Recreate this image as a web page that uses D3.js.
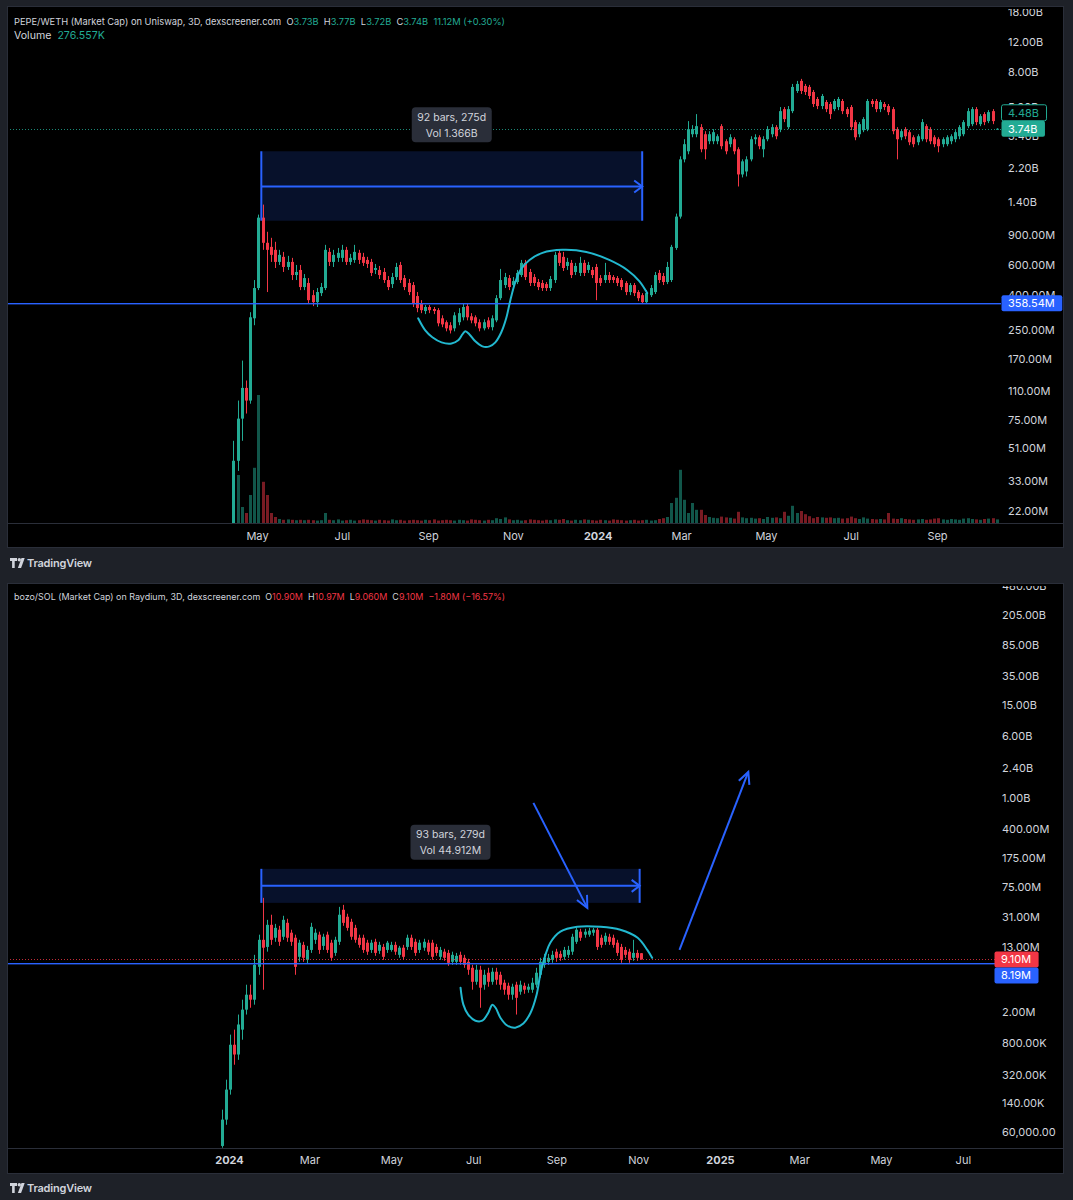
<!DOCTYPE html>
<html><head><meta charset="utf-8">
<script src="https://cdn.jsdelivr.net/npm/d3@7"></script>
<style>
html,body{margin:0;padding:0;background:#1e2128;}
svg{display:block;font-family:Inter,"Liberation Sans",Arial,sans-serif;}
</style></head><body>
<svg id="c" width="1073" height="1200"></svg>
<script>
// ---------------- DATA ----------------
// PEPE/WETH market cap, 3D candles, values in millions: [open, high, low, close]
const pepeStart = "2023-04-14";
const pepeOHLC = [
[18.5,56.5,15,43.2],[43.2,97,37.7,76.1],[76.1,166,56.5,115],[115,127,81.5,97],[97,318,93,297],
[293,490,267,440],[440,1180,428,1133],[1133,1350,735,808],[808,937,417,735],[765,864,625,687],
[735,819,576,625],[625,735,600,687],[669,715,546,584],[584,678,561,625],[625,660,490,524],
[524,600,490,546],[561,600,428,446],[446,531,428,503],[471,503,359,374],[400,428,345,364],
[364,440,341,417],[411,471,395,446],[440,786,428,735],[715,754,592,625],[625,735,584,687],
[660,754,625,706],[660,786,625,735],[735,765,600,625],[625,696,600,660],[642,786,617,715],
[706,735,608,642],[669,706,592,617],[642,669,576,608],[625,651,517,539],[561,608,531,576],
[561,592,497,524],[546,576,471,490],[490,517,428,446],[464,539,440,510],[510,617,490,584],
[600,625,471,490],[503,524,428,446],[471,497,400,417],[458,477,341,359],[395,417,318,336],
[359,374,314,327],[323,350,310,341],[341,350,314,327],[332,341,310,323],[327,336,263,274],
[293,305,260,270],[278,285,246,256],[267,278,239,249],[256,318,246,305],[278,336,267,314],
[297,355,285,341],[345,359,285,297],[301,314,274,285],[297,305,263,274],[278,289,246,256],
[256,289,249,278],[285,297,253,260],[260,305,249,293],[285,400,278,384],[384,569,374,490],
[458,539,440,510],[503,524,428,446],[458,510,440,483],[477,561,464,539],[524,642,510,617],
[617,642,490,510],[546,569,452,471],[510,531,452,471],[477,497,428,446],[471,490,423,440],
[464,477,423,440],[440,517,423,497],[490,715,471,687],[706,735,592,617],[669,715,553,576],
[592,660,561,625],[617,642,503,524],[546,617,524,592],[539,669,517,617],[617,642,517,539],
[561,625,539,600],[561,584,503,524],[584,608,374,471],[503,524,452,471],[490,617,471,524],
[524,546,471,490],[510,524,471,490],[503,517,452,471],[490,503,428,446],[471,483,400,417],
[417,471,400,458],[458,471,395,411],[417,428,369,384],[400,411,355,364],[364,428,355,411],
[400,458,390,440],[417,546,406,524],[539,561,471,490],[517,539,458,477],[477,625,464,584],
[490,786,477,765],[754,1196,735,1149],[1149,2584,1118,2480],[2480,3250,2381,3040],[2764,4146,2655,3720],
[3475,3927,3337,3720],[3475,4555,3337,3874],[3822,3980,2727,2840],[3475,3621,2480,2840],[3163,3621,3040,3475],
[3163,3720,3040,3572],[3163,3475,3040,3382],[3874,3980,2840,2959],[3163,3250,2655,2764],[3040,3475,2919,3337],
[3250,3337,2655,2764],[2840,2919,1722,2025],[2025,2480,1945,2414],[2107,2584,1971,2480],[2480,3382,2414,3250],
[3250,3475,3040,3337],[3337,3428,2840,2959],[2840,3382,2549,3250],[3250,3874,3163,3720],[3475,3980,3337,3822],
[3822,3927,3250,3382],[3720,5008,3572,4740],[4870,5008,4090,4260],[3822,5076,3720,4870],[4740,6830,4614,6560],
[6215,7115,6049,6830],[7115,7310,5970,6215],[6648,6830,5890,6131],[6560,6740,5580,5810],[6131,6299,5008,5215],
[5580,5733,4870,5076],[5076,5970,4870,5810],[5358,5505,4677,4870],[5215,5358,4260,4555],[4870,5580,4740,5431],
[5008,5733,4805,5580],[5431,5580,4555,4740],[4870,5008,4374,4555],[5008,5145,3670,3822],[4090,4203,3206,3337],
[3475,4090,3337,3980],[3670,4374,3572,4260],[3720,5580,3621,5431],[5431,5580,5008,5215],[5431,5580,4677,4870],
[4870,5505,4677,5358],[5215,5358,4805,5008],[5076,5215,4494,4677],[4870,5008,3475,3621],[3720,3822,2480,3250],
[3337,3720,3206,3621],[3720,3822,3250,3382],[3572,3670,2999,3121],[3337,3428,2919,3040],[3121,3475,2999,3382],
[3250,4260,3163,4090],[3874,3980,3121,3250],[3720,3822,3040,3163],[3337,3428,2919,3040],[3250,3337,2727,2959],
[3040,3337,2919,3250],[3040,3428,2959,3337],[3163,3475,3040,3382],[3250,3670,3121,3572],[3382,3927,3250,3822],
[3475,4203,3382,4090],[3874,4940,3770,4740],[3980,5008,3874,4870],[4870,5008,3927,4090],[3980,4555,3874,4433],
[4555,4677,3927,4090],[4146,4805,4036,4677],[4740,4870,3980,4146],[3730,3770,3720,3740]
];
// volume per bar (millions, relative)
const pepeVolume = [
125,120,40,25,70,138,320,103,70,25,15,
10,8,9,8,7,8,7,8,7,6,7,
25,
8,7,9,6,7,8,6,7,9,8,7,6,8,7,6,9,7,8,6,7,8,7,6,8,7,9,6,7,8,7,6,8,7,6,9,8,7,6,8,7,
12,10,14,9,
7,8,6,7,9,8,7,6,8,7,9,8,10,7,6,8,7,9,8,7,6,8,7,6,9,8,7,6,7,8,6,7,8,6,7,10,12,
15,50,63,133,58,25,50,33,33,20,
15,13,12,16,14,13,11,28,14,12,13,11,12,10,15,13,14,12,28,18,43,25,30,22,17,12,15,14,13,14,
12,13,11,12,16,12,10,14,11,10,9,10,9,25,11,10,12,10,9,8,9,10,8,9,11,12,9,8,10,9,8,11,12,10,9,8,10,11,12,9
];
const pepeTimeTicks = ["2023-05-01","2023-07-01","2023-09-01","2023-11-01","2024-01-01","2024-03-01","2024-05-01","2024-07-01","2024-09-01"];
const pepePriceTicks = [18000,12000,8000,5000,3400,2200,1400,900,600,400,250,170,110,75,51,33,22];
const pepeLevel = 358.54;        // horizontal line
const pepeLast = 3740, pepePrev = 4480;
const pepeRangeBars = [6.7, 98.0];         // bar index from/to
const pepeRangeVals = [2764, 1087, 1722];  // top, bottom, arrow level
const pepeCurve = [[44.3,293],[46.0,249],[47.7,227],[49.9,212],[52.3,209],[53.9,218],[54.9,236],[55.6,246],[56.6,236],[58.0,215],[59.7,201],[61.4,201],[62.8,212],[64.2,242],[65.4,293],[66.4,374],[67.6,477],[69.0,569],[71.0,642],[74.1,706],[78.9,735],[84.6,715],[90.1,642],[94.4,561],[97.3,483],[99.2,411]];

// bozo/SOL market cap, 3D candles, millions
const bozoStart = "2023-12-27";
const bozoOHLC = [
[0.040,0.115,0.038,0.086],[0.086,0.275,0.074,0.206],[0.206,1.02,0.178,0.76],[0.76,1.18,0.425,0.572],[0.572,1.83,0.49,1.37],
[1.18,2.82,0.88,2.11],[2.11,4.36,1.83,3.26],[3.26,4.36,2.23,2.82],[2.82,10.4,2.44,7.78],[7.34,18.7,5.82,16.1],
[16.1,54.6,3.77,12.8],[13.1,28.8,11.4,24.9],[24.9,33.4,13.9,16.1],[17.1,25.6,15.2,22.8],[21.6,24.2,13.5,15.2],
[17.6,32.4,16.1,28.8],[26.4,29.7,15.2,17.1],[19.8,21.6,13.5,15.2],[17.1,18.7,5.82,7.34],[9.82,16.1,8.49,14.8],
[13.9,15.2,8.49,9.54],[9.00,13.5,8.01,12.0],[12.0,26.4,11.0,23.5],[16.1,22.2,14.3,19.8],[18.7,20.4,10.7,12.0],
[13.5,19.2,12.0,17.6],[18.7,20.4,11.0,12.0],[14.8,16.1,8.74,9.54],[11.0,17.6,10.1,16.1],[15.2,42.0,13.9,33.4],
[38.6,44.5,24.2,26.4],[31.5,34.4,21.0,22.8],[27.2,29.7,16.1,17.6],[22.8,24.9,14.8,16.1],[17.1,18.7,12.8,13.9],
[17.1,18.7,11.0,12.0],[14.8,16.1,10.4,11.4],[12.0,16.1,11.0,14.8],[15.2,16.6,10.1,11.0],[11.7,15.2,10.7,13.9],
[13.1,14.3,9.00,9.82],[12.0,15.6,11.0,14.8],[12.0,15.2,11.4,13.9],[13.9,15.2,10.4,11.4],[10.4,13.5,9.54,12.8],
[12.8,13.9,9.00,9.82],[13.1,18.7,12.0,17.1],[17.1,18.7,12.0,13.1],[15.2,16.6,10.1,11.0],[12.0,16.1,11.0,14.8],
[12.8,16.6,11.7,15.2],[14.8,16.1,10.4,11.4],[14.8,16.1,9.00,9.82],[13.1,14.3,10.1,11.0],[9.82,13.1,9.00,12.0],
[11.4,12.4,8.74,9.54],[11.0,12.0,7.56,8.25],[8.49,11.4,7.78,10.4],[8.49,11.0,7.78,10.1],[10.4,11.4,7.78,8.49],
[9.54,10.4,7.13,7.78],[8.49,9.27,5.82,6.74],[7.13,7.78,3.77,4.75],[4.75,7.78,4.36,6.74],[6.74,7.56,2.23,4.00],
[4.36,6.74,3.77,5.82],[6.18,7.13,4.11,4.75],[4.75,7.13,4.36,6.36],[6.36,7.13,4.36,5.04],[5.82,6.36,3.77,4.36],
[4.62,5.04,3.26,3.77],[4.23,4.62,2.82,3.26],[3.26,4.49,2.82,4.11],[4.36,4.75,1.83,2.98],[3.56,4.90,3.26,4.36],
[4.23,4.62,3.35,3.77],[3.77,4.49,3.45,4.11],[3.77,5.33,3.45,4.62],[4.36,7.13,4.00,6.18],[5.82,9.54,5.33,8.49],
[7.78,10.7,7.13,9.54],[8.49,10.7,7.78,9.54],[9.00,11.7,8.25,10.4],[11.4,12.4,8.49,9.54],[10.7,11.7,8.74,9.54],
[9.82,13.1,9.00,12.0],[10.4,13.5,9.54,12.0],[11.4,19.2,10.4,17.6],[15.2,22.8,14.3,21.6],[20.4,22.2,15.6,17.1],
[18.7,22.2,17.1,20.4],[18.7,22.8,17.6,21.0],[19.8,22.8,18.1,21.6],[21.6,22.8,12.0,13.1],[17.1,18.7,12.8,13.9],
[15.2,19.8,13.9,18.1],[17.6,19.2,13.9,15.2],[17.1,18.7,12.8,13.9],[14.8,16.1,10.1,11.0],[13.1,14.3,8.25,9.00],
[12.0,13.1,9.54,10.4],[11.4,12.4,8.25,9.00],[9.54,16.1,8.74,11.0],[11.0,12.0,8.74,9.54],[10.90,10.97,9.06,9.10]
];
const bozoTimeTicks = ["2024-01-01","2024-03-01","2024-05-01","2024-07-01","2024-09-01","2024-11-01","2025-01-01","2025-03-01","2025-05-01","2025-07-01"];
const bozoPriceTicks = [480000,205000,85000,35000,15000,6000,2400,1000,400,175,75,31,13,2,0.8,0.32,0.14,0.06];
const bozoLevel = 8.19;
const bozoLast = 9.10;
const bozoRangeBars = [9.7, 103.7];
const bozoRangeVals = [127, 47.2, 77.4];
const bozoCurve = [[59.2,4.00],[59.9,2.44],[61.1,1.83],[62.9,1.53],[64.6,1.53],[66.1,1.93],[67.1,2.44],[67.9,2.23],[69.1,1.67],[70.8,1.33],[72.8,1.25],[74.8,1.41],[76.6,1.93],[78.1,3.26],[79.0,5.82],[80.3,10.4],[81.5,14.8],[84.0,20.4],[88.2,23.5],[94.0,23.5],[98.9,21.6],[103.2,17.1],[105.6,12.0],[106.8,9.54]];
const bozoArrows = [[[77.3,865],[90.7,40.8]],[[113.6,12.0],[130.7,2130]]];

// ---------------- DRAW ----------------
const UP="#22ab94", DOWN="#f23645", BLUE="#2962ff", CYAN="#22b8cf", TXT="#d1d4dc";
const DAY=864e5;
const parse=d3.utcParse("%Y-%m-%d");
const svg=d3.select("#c");
svg.append("rect").attr("width",1073).attr("height",1200).attr("fill","#1e2128");
const defs=svg.append("defs");

function fmtM(v){
  if(v>=1000) return (v/1000).toFixed(2)+"B";
  if(v>=1) return v.toFixed(2)+"M";
  if(v*1e6>=100000) return (v*1000).toFixed(2)+"K";
  return d3.format(",.2f")(v*1e6);
}

function header(g, x, y, segs, target){
  const t=g.append("text").attr("x",x).attr("y",y).attr("dominant-baseline","central")
    .attr("xml:space","preserve").attr("font-size",10.5);
  segs.forEach(s=>t.append("tspan").attr("fill",s[1]).text(s[0]));
  if(target){
    const len=t.node().getComputedTextLength();
    t.attr("font-size",10.5*target/len);
  }
  return t;
}

function priceLabel(g, x, yc, text, bg, fg, stroke){
  const lg=g.append("g");
  const r=lg.append("rect");
  const t=lg.append("text").attr("x",x+7).attr("y",yc).attr("dominant-baseline","central")
    .attr("font-size",11).attr("fill",fg).text(text);
  const w=t.node().getComputedTextLength()+14;
  r.attr("x",x+0.5).attr("y",yc-8).attr("width",w).attr("height",16)
    .attr("rx",2).attr("fill",bg).attr("stroke",stroke||"none");
}

function drawChart(o){
  const x=d3.scaleUtc().domain(o.xDomain.map(parse)).range(o.xRange);
  const y=d3.scaleLog().domain(o.yDomain).range(o.yRange);
  const t0=parse(o.start);
  const bx=i=>x(new Date(+t0+i*3*DAY));
  const g=svg.append("g");
  g.append("rect").attr("x",o.left+0.5).attr("y",o.top+0.5).attr("width",o.right-o.left-1)
    .attr("height",o.bottom-o.top-1).attr("fill","#000").attr("stroke","#2a2e39");
  g.append("line").attr("x1",o.left+1).attr("x2",o.right-1).attr("y1",o.plotBottom+0.5).attr("y2",o.plotBottom+0.5)
    .attr("stroke","#2a2e39");
  const cid="clip"+o.id;
  defs.append("clipPath").attr("id",cid).append("rect").attr("x",o.left+1).attr("y",o.top+1)
    .attr("width",o.plotRight-o.left-1).attr("height",o.plotBottom-o.top-1);
  const aid="aclip"+o.id;
  defs.append("clipPath").attr("id",aid).append("rect").attr("x",o.plotRight).attr("y",o.top+3)
    .attr("width",o.right-o.plotRight).attr("height",o.plotBottom-o.top-3);
  const p=g.append("g").attr("clip-path",`url(#${cid})`);

  // date range measurement
  const rx1=bx(o.rangeBars[0]), rx2=bx(o.rangeBars[1]);
  const ry1=y(o.rangeVals[0]), ry2=y(o.rangeVals[1]), rym=y(o.rangeVals[2]);
  p.append("rect").attr("x",rx1).attr("y",ry1).attr("width",rx2-rx1).attr("height",ry2-ry1)
    .attr("fill","rgba(41,98,255,0.17)");

  // volume
  if(o.volume){
    const yv=d3.scaleLinear().domain([0,320]).range([o.plotBottom,o.plotBottom-128]);
    p.append("g").selectAll("rect").data(o.volume).join("rect")
      .attr("x",(d,i)=>Math.round(bx(i))-1).attr("width",3)
      .attr("y",d=>yv(d)).attr("height",d=>o.plotBottom-yv(d))
      .attr("fill",(d,i)=>o.ohlc[i][3]>=o.ohlc[i][0]?UP:DOWN).attr("opacity",0.5);
  }

  // candles
  const cg=p.append("g");
  cg.selectAll("line").data(o.ohlc).join("line")
    .attr("x1",(d,i)=>Math.round(bx(i))+0.5).attr("x2",(d,i)=>Math.round(bx(i))+0.5)
    .attr("y1",d=>y(d[1])).attr("y2",d=>y(d[2]))
    .attr("stroke",d=>d[3]>=d[0]?UP:DOWN).attr("stroke-width",1);
  cg.selectAll("rect").data(o.ohlc).join("rect")
    .attr("x",(d,i)=>Math.round(bx(i))-1).attr("width",3)
    .attr("y",d=>y(Math.max(d[0],d[3])))
    .attr("height",d=>Math.max(1,y(Math.min(d[0],d[3]))-y(Math.max(d[0],d[3]))))
    .attr("fill",d=>d[3]>=d[0]?UP:DOWN);

  // level line & last price line
  const ylv=Math.round(y(o.level));
  p.append("rect").attr("x",o.left).attr("width",o.plotRight-o.left).attr("y",ylv).attr("height",1.4)
    .attr("fill",BLUE);
  p.append("line").attr("x1",o.left).attr("x2",o.plotRight).attr("y1",Math.round(y(o.last))+0.5)
    .attr("y2",Math.round(y(o.last))+0.5).attr("stroke",o.lastColor).attr("stroke-width",1)
    .attr("stroke-dasharray","1,2").attr("opacity",0.8);

  // range verticals + arrow
  [rx1,rx2].forEach(xx=>p.append("line").attr("x1",xx).attr("x2",xx).attr("y1",ry1).attr("y2",ry2)
    .attr("stroke",BLUE).attr("stroke-width",2));
  p.append("line").attr("x1",rx1).attr("x2",rx2).attr("y1",rym).attr("y2",rym).attr("stroke",BLUE).attr("stroke-width",2);
  p.append("path").attr("d",`M${rx2-8},${rym-6}L${rx2},${rym}L${rx2-8},${rym+6}`).attr("fill","none")
    .attr("stroke",BLUE).attr("stroke-width",2);
  // range info label
  const mx=(rx1+rx2)/2, lb=ry1-9;
  p.append("rect").attr("x",mx-40).attr("y",lb-35).attr("width",80).attr("height",35).attr("rx",4).attr("fill","#2a2e39");
  p.append("text").attr("x",mx).attr("y",lb-25).attr("text-anchor","middle").attr("dominant-baseline","central")
    .attr("font-size",10.5).attr("fill",TXT).text(o.rangeText[0]);
  p.append("text").attr("x",mx).attr("y",lb-9).attr("text-anchor","middle").attr("dominant-baseline","central")
    .attr("font-size",10.5).attr("fill",TXT).text(o.rangeText[1]);

  // drawn curve
  const line=d3.line().x(d=>bx(d[0])).y(d=>y(d[1])).curve(d3.curveCatmullRom.alpha(0.5));
  p.append("path").attr("d",line(o.curve)).attr("fill","none").attr("stroke",CYAN).attr("stroke-width",2)
    .attr("stroke-linecap","round");

  // arrows
  (o.arrows||[]).forEach(a=>{
    const x1=bx(a[0][0]), y1=y(a[0][1]), x2=bx(a[1][0]), y2=y(a[1][1]);
    const ang=Math.atan2(y2-y1,x2-x1), L=13, s=0.45;
    p.append("line").attr("x1",x1).attr("y1",y1).attr("x2",x2).attr("y2",y2).attr("stroke",BLUE).attr("stroke-width",2);
    p.append("path").attr("d",`M${x2-L*Math.cos(ang-s)},${y2-L*Math.sin(ang-s)}L${x2},${y2}L${x2-L*Math.cos(ang+s)},${y2-L*Math.sin(ang+s)}`)
      .attr("fill","none").attr("stroke",BLUE).attr("stroke-width",2);
  });

  // price axis (wrapper group carries the clip, inner group the translation)
  const ax=d3.axisRight(y).tickValues(o.priceTicks).tickFormat(fmtM).tickSize(0).tickPadding(0);
  const aw=g.append("g").attr("clip-path",`url(#${aid})`);
  const ag=aw.append("g").attr("transform",`translate(${o.labelX},0)`).call(ax);
  ag.select(".domain").remove();
  ag.attr("font-family",null);
  ag.selectAll("text").attr("fill",TXT).attr("font-size",11);

  // time axis
  const tx=d3.axisBottom(x).tickValues(o.timeTicks.map(parse)).tickSize(0).tickPadding(0)
    .tickFormat(d=>d.getUTCMonth()===0?String(d.getUTCFullYear()):d3.utcFormat("%b")(d));
  const tg=g.append("g").attr("transform",`translate(0,${o.timeY})`).call(tx);
  tg.select(".domain").remove();
  tg.attr("font-family",null);
  tg.selectAll("text").attr("fill",TXT).attr("font-size",11).attr("dy","0.35em").attr("y",0)
    .attr("font-weight",d=>d.getUTCMonth()===0?"700":"400");

  return {g,y};
}

// ---- top chart: PEPE ----
const pepeChart=drawChart({id:"t",left:7,top:6,right:1064,bottom:548,plotRight:1001,plotBottom:523,labelX:1008,timeY:536,
  xDomain:["2023-05-01","2024-09-01"],xRange:[257,937],yDomain:[22,12000],yRange:[511,42],
  start:pepeStart,ohlc:pepeOHLC,volume:pepeVolume,priceTicks:pepePriceTicks,timeTicks:pepeTimeTicks,
  level:pepeLevel,last:pepeLast,lastColor:UP,rangeBars:pepeRangeBars,rangeVals:pepeRangeVals,
  rangeText:["92 bars, 275d","Vol 1.366B"],curve:pepeCurve});
{
  const g=pepeChart.g, y=pepeChart.y;
  const yl=y(pepeLast);
  priceLabel(g,1001,yl-16,fmtM(pepePrev),"#000",UP,UP);
  priceLabel(g,1001,yl,fmtM(pepeLast),UP,"#fff");
  priceLabel(g,1001,y(pepeLevel),fmtM(pepeLevel),BLUE,"#fff");
  header(g,14,21,[["PEPE/WETH (Market Cap) on Uniswap, 3D, dexscreener.com  ",TXT],["O",TXT],["3.73B  ",UP],["H",TXT],["3.77B  ",UP],["L",TXT],["3.72B  ",UP],["C",TXT],["3.74B  ",UP],["11.12M (+0.30%)",UP]],492);
  header(g,14,35,[["Volume  ",TXT],["276.557K",UP]]).attr("font-size",10.6);
}

// ---- bottom chart: bozo ----
const bozoChart=drawChart({id:"b",left:7,top:583,right:1064,bottom:1174,plotRight:995,plotBottom:1148,labelX:1002,timeY:1160,
  xDomain:["2024-01-01","2025-01-01"],xRange:[229,720],yDomain:[0.06,205000],yRange:[1132,615],
  start:bozoStart,ohlc:bozoOHLC,priceTicks:bozoPriceTicks,timeTicks:bozoTimeTicks,
  level:bozoLevel,last:bozoLast,lastColor:DOWN,rangeBars:bozoRangeBars,rangeVals:bozoRangeVals,
  rangeText:["93 bars, 279d","Vol 44.912M"],curve:bozoCurve,arrows:bozoArrows});
{
  const g=bozoChart.g, y=bozoChart.y;
  const yl=y(bozoLast);
  priceLabel(g,994,yl,fmtM(bozoLast),DOWN,"#fff");
  priceLabel(g,994,yl+16,fmtM(bozoLevel),BLUE,"#fff");
  header(g,14,596,[["bozo/SOL (Market Cap) on Raydium, 3D, dexscreener.com  ",TXT],["O",TXT],["10.90M  ",DOWN],["H",TXT],["10.97M  ",DOWN],["L",TXT],["9.060M  ",DOWN],["C",TXT],["9.10M  ",DOWN],["\u22121.80M (\u221216.57%)",DOWN]],492);
}

// TradingView brand marks
function brand(yc){
  const b=svg.append("g").attr("fill",TXT);
  b.append("path").attr("d",`M10,${yc-5}h7v3h-2.3v7h-2.6v-7h-2.1z`);
  b.append("circle").attr("cx",19.3).attr("cy",yc-3.3).attr("r",1.7);
  b.append("path").attr("d",`M21.5,${yc-5}h3.2l-3.6,10h-3.2z`);
  b.append("text").attr("x",27).attr("y",yc).attr("dominant-baseline","central").attr("font-size",11)
    .attr("font-weight",600).attr("letter-spacing",-0.2).text("TradingView");
}
brand(563);
brand(1188);
</script>
</body></html>
